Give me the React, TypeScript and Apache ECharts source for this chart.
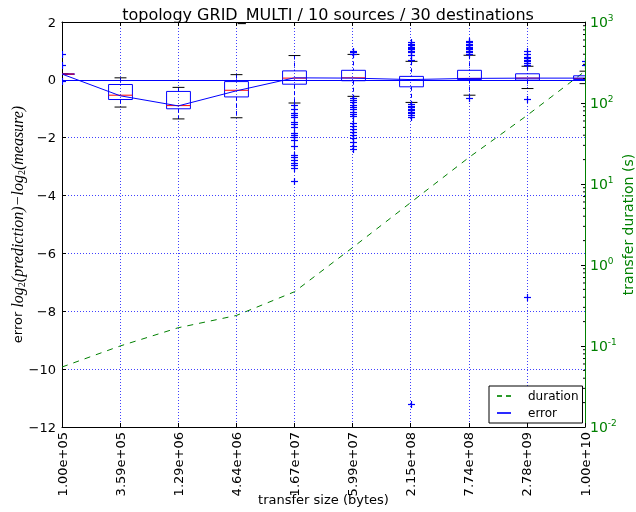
import React, { useEffect, useRef } from 'react';
import * as echarts from 'echarts';

const categories = ['1.00e+05', '3.59e+05', '1.29e+06', '4.64e+06', '1.67e+07', '5.99e+07', '2.15e+08', '7.74e+08', '2.78e+09', '1.00e+10'];

const whiskerLow = [0.2, -0.94, -1.35, -1.31, -0.8, -0.57, -0.78, -0.53, -0.3, -0.13];
const q1 = [0.19, -0.68, -1.0, -0.59, -0.15, -0.03, -0.24, 0.01, -0.01, 0.01];
const median = [0.2, -0.53, -0.89, -0.36, 0.06, 0.07, -0.02, 0.05, 0.06, 0.05];
const q3 = [0.21, -0.16, -0.4, -0.06, 0.31, 0.33, 0.12, 0.33, 0.21, 0.14];
const whiskerHigh = [0.2, 0.07, -0.26, 0.18, 0.84, 0.88, 0.64, 0.85, 0.47, 0.3];

const outliers: number[][] = [
  [0.9, 0.5, -0.05],
  [],
  [],
  [],
  [-0.86, -1.0, -1.13, -1.2, -1.27, -1.44, -1.53, -1.62, -1.83, -1.9, -1.97, -2.07, -2.3, -2.59, -2.68, -2.77, -2.86, -2.95, -3.04, -3.51],
  [1.0, 0.95, 0.9, -0.62, -0.7, -0.78, -0.86, -0.94, -1.02, -1.1, -1.18, -1.26, -1.5, -1.6, -1.7, -1.8, -1.9, -2.0, -2.15, -2.3, -2.4],
  [1.3, 1.25, 1.2, 1.15, 1.1, 1.05, 1.0, 0.95, 0.85, 0.7, -0.85, -0.9, -0.95, -1.0, -1.05, -1.1, -1.15, -1.2, -1.3, -11.2],
  [1.35, 1.3, 1.25, 1.2, 1.15, 1.1, 1.05, 1.0, 0.95, 0.9, -0.62],
  [1.0, 0.9, 0.8, 0.75, 0.7, 0.65, 0.6, 0.53, -0.65, -7.5],
  [0.64, 0.53],
];

const errorMean = [0.2, -0.55, -0.9, -0.38, 0.07, 0.06, 0.01, 0.05, 0.06, 0.06];

const duration = [0.055, 0.1, 0.168, 0.238, 0.467, 1.64, 5.9, 21.2, 70, 247];

const logMinorTicks = [0.02, 0.03, 0.04, 0.05, 0.06, 0.07, 0.08, 0.09, 0.2, 0.3, 0.4, 0.5, 0.6, 0.7, 0.8, 0.9, 2, 3, 4, 5, 6, 7, 8, 9, 20, 30, 40, 50, 60, 70, 80, 90, 200, 300, 400, 500, 600, 700, 800, 900];

const FONT = 'DejaVu Sans';
const BLUE = '#0000ff';
const GREEN = '#008000';

export default function App() {
  const ref = useRef<HTMLDivElement>(null);
  useEffect(() => {
    const chart = echarts.init(ref.current!, null, { renderer: 'svg' });

    const boxData = categories.map((_, i) => [i, whiskerLow[i], q1[i], median[i], q3[i], whiskerHigh[i]]);
    const flierData: number[][] = [];
    outliers.forEach((arr, i) => arr.forEach((v) => flierData.push([i, v])));

    const option: any = {
      animation: false,
      textStyle: { fontFamily: FONT },
      title: {
        text: 'topology GRID_MULTI / 10 sources / 30 destinations',
        left: 323,
        textAlign: 'center',
        top: 1,
        textStyle: { fontSize: 16, fontWeight: 'normal', color: '#000', fontFamily: FONT },
      },
      legend: {
        data: [
          { name: 'duration', icon: 'path://M0,0h5v2h-5z M9,0h5v2h-5z', itemStyle: { color: '#2a9a2a' } },
          { name: 'error', icon: 'path://M0,0h14v2h-14z', itemStyle: { color: '#2a2aff' } },
        ],
        orient: 'vertical',
        left: 489,
        top: 386,
        padding: [3, 4, 3, 8],
        itemGap: 3,
        itemWidth: 14,
        itemHeight: 2,
        backgroundColor: '#fff',
        borderColor: '#000',
        borderWidth: 1,
        borderRadius: 0,
        textStyle: { fontSize: 12, color: '#000', fontFamily: FONT, padding: [0, 0, 0, 12], lineHeight: 14 },
      },
      grid: { left: 62, right: 51, top: 22, bottom: 85, containLabel: false, outerBoundsMode: 'none' },
      xAxis: [
        {
          type: 'value',
          min: 0,
          max: 9,
          interval: 1,
          position: 'bottom',
          axisLine: { show: true, onZero: false, lineStyle: { color: '#000', width: 1 } },
          axisTick: { show: true, inside: true, length: 4, lineStyle: { color: '#000' } },
          axisLabel: {
            rotate: 90,
            margin: 5,
            fontSize: 13,
            color: '#000',
            fontFamily: FONT,
            showMinLabel: true,
            showMaxLabel: true,
            formatter: (v: number) => categories[Math.round(v)] ?? '',
          },
          splitLine: { show: true, lineStyle: { color: BLUE, type: [1, 2], width: 1, opacity: 0.75 } },
          name: 'transfer size (bytes)',
          nameLocation: 'middle',
          nameGap: 66,
          nameMoveOverlap: false,
          nameTextStyle: { fontSize: 13, color: '#000', fontFamily: FONT },
        },
        {
          type: 'value',
          min: 0,
          max: 9,
          interval: 1,
          position: 'top',
          axisLine: { show: true, onZero: false, lineStyle: { color: '#000', width: 1 } },
          axisTick: { show: true, inside: true, length: 4, lineStyle: { color: '#000' } },
          axisLabel: { show: false },
          splitLine: { show: false },
        },
      ],
      yAxis: [
        {
          type: 'value',
          min: -12,
          max: 2,
          interval: 2,
          position: 'left',
          axisLine: { show: true, onZero: false, lineStyle: { color: '#000', width: 1 } },
          axisTick: { show: true, inside: true, length: 4, lineStyle: { color: '#000' } },
          axisLabel: {
            fontSize: 13,
            color: '#000',
            fontFamily: FONT,
            margin: 6,
            formatter: (v: number) => String(v).replace('-', '\u2212'),
          },
          splitLine: { show: true, lineStyle: { color: BLUE, type: [1, 2], width: 1, opacity: 0.75 } },
          name: '{a|error }{m|log}{s|2}{m|(prediction)\u2212log}{s|2}{m|(measure)}',
          nameLocation: 'middle',
          nameRotate: 90,
          nameGap: 36,
          nameMoveOverlap: false,
          nameTextStyle: {
            rich: {
              a: { fontSize: 13, fontFamily: FONT, color: '#000', lineHeight: 18, verticalAlign: 'middle' },
              m: { fontSize: 16, fontFamily: 'Liberation Serif', fontStyle: 'italic', color: '#000', lineHeight: 18, verticalAlign: 'middle' },
              s: { fontSize: 10, fontFamily: 'Liberation Serif', color: '#000', lineHeight: 10, verticalAlign: 'bottom' },
            },
          },
        },
        {
          type: 'log',
          logBase: 10,
          min: 0.01,
          max: 1000,
          position: 'right',
          axisLine: { show: true, onZero: false, lineStyle: { color: GREEN, width: 1 } },
          axisTick: { show: true, inside: true, length: 4, lineStyle: { color: '#000' } },
          axisLabel: {
            margin: 5,
            formatter: (v: number) => `{b|10}{s|${Math.round(Math.log10(v))}}`,
            rich: {
              b: { fontSize: 14, color: GREEN, fontFamily: FONT, lineHeight: 18 },
              s: { fontSize: 9, color: GREEN, fontFamily: FONT, lineHeight: 9, verticalAlign: 'top' },
            },
          },
          splitLine: { show: false },
          name: 'transfer duration (s)',
          nameLocation: 'middle',
          nameRotate: 90,
          nameGap: 36,
          nameMoveOverlap: false,
          nameTextStyle: { fontSize: 14, color: GREEN, fontFamily: FONT },
        },
      ],
      series: [
        {
          name: 'duration',
          type: 'line',
          xAxisIndex: 0,
          yAxisIndex: 1,
          data: duration.map((d, i) => [i, d]),
          symbol: 'none',
          itemStyle: { color: GREEN },
          lineStyle: { color: GREEN, type: [6, 6], width: 1 },
          z: 2,
        },
        {
          name: 'boxes',
          type: 'custom',
          xAxisIndex: 0,
          yAxisIndex: 0,
          clip: true,
          data: boxData,
          encode: { x: 0, y: [1, 2, 3, 4, 5] },
          z: 3,
          renderItem: (params: any, api: any) => {
            const x = api.value(0);
            const low = api.coord([x, api.value(1)]);
            const b1 = api.coord([x, api.value(2)]);
            const med = api.coord([x, api.value(3)]);
            const b3 = api.coord([x, api.value(4)]);
            const high = api.coord([x, api.value(5)]);
            const bw = api.size([1, 0])[0] * 0.41;
            const half = bw / 2;
            const cx = Math.round(low[0]) + 0.5;
            const ln = (x1: number, y1: number, x2: number, y2: number, stroke: string, dash?: number[]) => ({
              type: 'line',
              shape: { x1, y1, x2, y2 },
              style: { stroke, lineWidth: 1, lineDash: dash },
            });
            return {
              type: 'group',
              children: [
                ln(cx, high[1], cx, b3[1], BLUE, [4, 3]),
                ln(cx, b1[1], cx, low[1], BLUE, [4, 3]),
                ln(cx - half / 2, high[1], cx + half / 2, high[1], '#000'),
                ln(cx - half / 2, low[1], cx + half / 2, low[1], '#000'),
                {
                  type: 'rect',
                  shape: { x: cx - half, y: b3[1], width: bw, height: b1[1] - b3[1] },
                  style: { fill: 'transparent', stroke: BLUE, lineWidth: 1 },
                },
                ln(cx - half, med[1], cx + half, med[1], '#ff0000'),
              ],
            };
          },
        },
        {
          name: 'fliers',
          type: 'custom',
          xAxisIndex: 0,
          yAxisIndex: 0,
          clip: true,
          data: flierData,
          encode: { x: 0, y: 1 },
          z: 4,
          renderItem: (params: any, api: any) => {
            const p = api.coord([api.value(0), api.value(1)]);
            const cx = Math.round(p[0]) + 0.5;
            const cy = Math.round(p[1]) + 0.5;
            const r = 3.5;
            return {
              type: 'group',
              children: [
                { type: 'line', shape: { x1: cx - r, y1: cy, x2: cx + r, y2: cy }, style: { stroke: BLUE, lineWidth: 1.2 } },
                { type: 'line', shape: { x1: cx, y1: cy - r, x2: cx, y2: cy + r }, style: { stroke: BLUE, lineWidth: 1.2 } },
              ],
            };
          },
        },
        {
          name: 'error',
          type: 'line',
          xAxisIndex: 0,
          yAxisIndex: 0,
          data: errorMean.map((v, i) => [i, v]),
          symbol: 'none',
          itemStyle: { color: BLUE },
          lineStyle: { color: BLUE, width: 1 },
          z: 5,
          markLine: {
            silent: true,
            symbol: ['none', 'none'],
            label: { show: false },
            lineStyle: { color: BLUE, type: 'solid', width: 1 },
            data: [{ yAxis: 0 }],
          },
        },
        {
          name: 'minorTicks',
          type: 'custom',
          xAxisIndex: 0,
          yAxisIndex: 1,
          data: logMinorTicks.map((v) => [9, v]),
          encode: { x: 0, y: 1 },
          z: 6,
          renderItem: (params: any, api: any) => {
            const p = api.coord([api.value(0), api.value(1)]);
            return {
              type: 'line',
              shape: { x1: p[0] - 2, y1: p[1], x2: p[0], y2: p[1] },
              style: { stroke: '#000', lineWidth: 1 },
            };
          },
        },
      ],
    };

    chart.setOption(option);
    return () => chart.dispose();
  }, []);

  return <div ref={ref} style={{ position: 'fixed', left: 0, top: 0, width: 636, height: 512 }} />;
}
